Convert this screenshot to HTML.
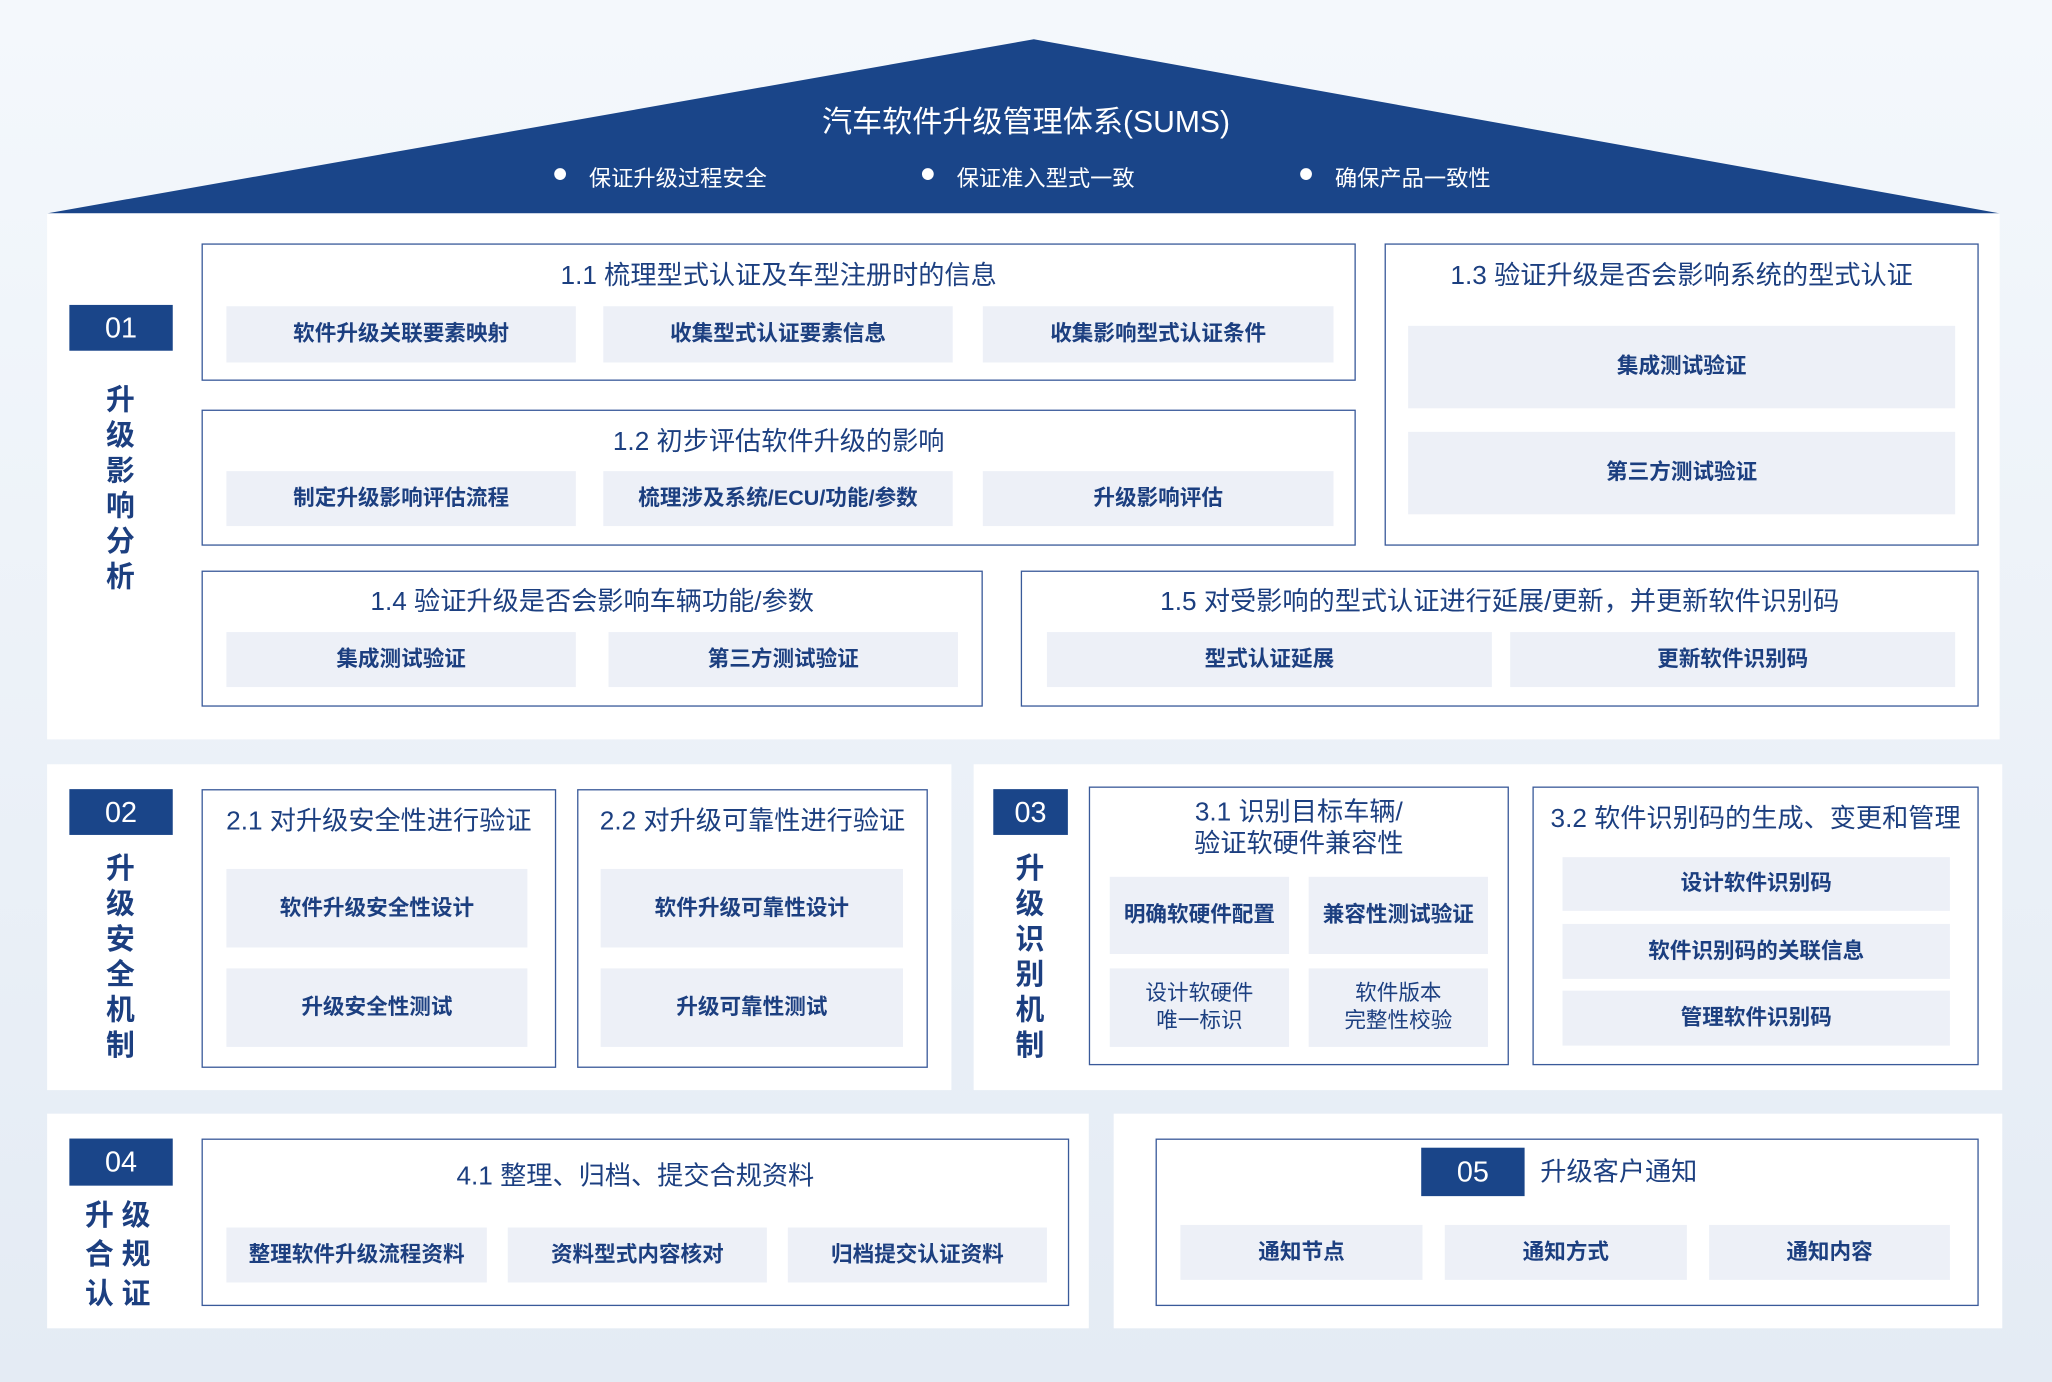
<!DOCTYPE html>
<html><head><meta charset="utf-8"><style>
html,body{margin:0;padding:0;width:2052px;height:1382px;overflow:hidden;background:linear-gradient(#f4f8fc,#e4ebf4);}
#s{position:absolute;left:0;top:0;width:1568px;height:1056px;transform:scale(1.30867);transform-origin:0 0;font-family:"Liberation Sans","Noto Sans CJK SC",sans-serif;color:#1c3f80;}
.a{position:absolute;box-sizing:border-box;}
.p{background:#fff;}
.b{border:1.5px solid #3a5a9a;background:#fff;}
.c{background:#edf0f7;display:flex;align-items:center;justify-content:center;text-align:center;font-size:16.5px;font-weight:bold;line-height:21px;}
.t{text-align:center;font-size:20px;line-height:24px;}
.g{background:#1a4589;color:#fff;font-size:22px;display:flex;align-items:center;justify-content:center;}
.v{font-size:22px;font-weight:bold;line-height:27px;text-align:center;width:30px;}
</style></head><body><div id="s">
<svg class="a" style="left:0;top:0" width="1568" height="170"><polygon points="36,163 790,30 1528,163" fill="#1a4589"/>
<circle cx="428" cy="133" r="4.5" fill="#fff"/><circle cx="709" cy="133" r="4.5" fill="#fff"/><circle cx="998" cy="133" r="4.5" fill="#fff"/></svg>
<div class="a" style="left:0;width:1568px;top:79px;text-align:center;color:#fff;font-size:23px;line-height:28px">汽车软件升级管理体系(SUMS)</div>
<div class="a" style="left:450px;top:122px;color:#fff;font-size:17px">保证升级过程安全</div>
<div class="a" style="left:731px;top:122px;color:#fff;font-size:17px">保证准入型式一致</div>
<div class="a" style="left:1020px;top:122px;color:#fff;font-size:17px">确保产品一致性</div>

<div class="a p" style="left:36px;top:163px;width:1492px;height:402px"></div>
<div class="a g" style="left:53px;top:233px;width:79px;height:35px">01</div>
<div class="a v" style="left:77px;top:292px">升<br>级<br>影<br>响<br>分<br>析</div>

<div class="a b" style="left:154px;top:186px;width:882px;height:105px"></div>
<div class="a t" style="left:154px;width:882px;top:199px">1.1 梳理型式认证及车型注册时的信息</div>
<div class="a c" style="left:173px;top:234px;width:267px;height:43px">软件升级关联要素映射</div>
<div class="a c" style="left:461px;top:234px;width:267px;height:43px">收集型式认证要素信息</div>
<div class="a c" style="left:751px;top:234px;width:268px;height:43px">收集影响型式认证条件</div>

<div class="a b" style="left:154px;top:313px;width:882px;height:104px"></div>
<div class="a t" style="left:154px;width:882px;top:326px">1.2 初步评估软件升级的影响</div>
<div class="a c" style="left:173px;top:360px;width:267px;height:42px">制定升级影响评估流程</div>
<div class="a c" style="left:461px;top:360px;width:267px;height:42px">梳理涉及系统/ECU/功能/参数</div>
<div class="a c" style="left:751px;top:360px;width:268px;height:42px">升级影响评估</div>

<div class="a b" style="left:1058px;top:186px;width:454px;height:231px"></div>
<div class="a t" style="left:1058px;width:454px;top:199px">1.3 验证升级是否会影响系统的型式认证</div>
<div class="a c" style="left:1076px;top:249px;width:418px;height:63px">集成测试验证</div>
<div class="a c" style="left:1076px;top:330px;width:418px;height:63px">第三方测试验证</div>

<div class="a b" style="left:154px;top:436px;width:597px;height:104px"></div>
<div class="a t" style="left:154px;width:597px;top:448px">1.4 验证升级是否会影响车辆功能/参数</div>
<div class="a c" style="left:173px;top:483px;width:267px;height:42px">集成测试验证</div>
<div class="a c" style="left:465px;top:483px;width:267px;height:42px">第三方测试验证</div>

<div class="a b" style="left:780px;top:436px;width:732px;height:104px"></div>
<div class="a t" style="left:780px;width:732px;top:448px">1.5 对受影响的型式认证进行延展/更新，并更新软件识别码</div>
<div class="a c" style="left:800px;top:483px;width:340px;height:42px">型式认证延展</div>
<div class="a c" style="left:1154px;top:483px;width:340px;height:42px">更新软件识别码</div>

<div class="a p" style="left:36px;top:584px;width:691px;height:249px"></div>
<div class="a g" style="left:53px;top:603px;width:79px;height:35px">02</div>
<div class="a v" style="left:77px;top:650px">升<br>级<br>安<br>全<br>机<br>制</div>
<div class="a b" style="left:154px;top:603px;width:271px;height:213px"></div>
<div class="a t" style="left:154px;width:271px;top:616px">2.1 对升级安全性进行验证</div>
<div class="a c" style="left:173px;top:664px;width:230px;height:60px">软件升级安全性设计</div>
<div class="a c" style="left:173px;top:740px;width:230px;height:60px">升级安全性测试</div>
<div class="a b" style="left:441px;top:603px;width:268px;height:213px"></div>
<div class="a t" style="left:441px;width:268px;top:616px">2.2 对升级可靠性进行验证</div>
<div class="a c" style="left:459px;top:664px;width:231px;height:60px">软件升级可靠性设计</div>
<div class="a c" style="left:459px;top:740px;width:231px;height:60px">升级可靠性测试</div>

<div class="a p" style="left:744px;top:584px;width:786px;height:249px"></div>
<div class="a g" style="left:759px;top:603px;width:57px;height:35px">03</div>
<div class="a v" style="left:772px;top:650px">升<br>级<br>识<br>别<br>机<br>制</div>
<div class="a b" style="left:832px;top:601px;width:321px;height:213px"></div>
<div class="a t" style="left:832px;width:321px;top:609px">3.1 识别目标车辆/<br>验证软硬件兼容性</div>
<div class="a c" style="left:848px;top:670px;width:137px;height:59px">明确软硬件配置</div>
<div class="a c" style="left:1000px;top:670px;width:137px;height:59px">兼容性测试验证</div>
<div class="a c" style="left:848px;top:740px;width:137px;height:60px;font-weight:normal">设计软硬件<br>唯一标识</div>
<div class="a c" style="left:1000px;top:740px;width:137px;height:60px;font-weight:normal">软件版本<br>完整性校验</div>
<div class="a b" style="left:1171px;top:601px;width:341px;height:213px"></div>
<div class="a t" style="left:1171px;width:341px;top:614px">3.2 软件识别码的生成、变更和管理</div>
<div class="a c" style="left:1194px;top:655px;width:296px;height:41px">设计软件识别码</div>
<div class="a c" style="left:1194px;top:706px;width:296px;height:42px">软件识别码的关联信息</div>
<div class="a c" style="left:1194px;top:757px;width:296px;height:42px">管理软件识别码</div>

<div class="a p" style="left:36px;top:851px;width:796px;height:164px"></div>
<div class="a g" style="left:53px;top:870px;width:79px;height:36px">04</div>
<div class="a" style="left:60px;top:914px;width:66px;font-size:22px;font-weight:bold;line-height:30px;text-align:center;letter-spacing:6px">升级<br>合规<br>认证</div>
<div class="a b" style="left:154px;top:870px;width:663px;height:128px"></div>
<div class="a t" style="left:154px;width:663px;top:887px">4.1 整理、归档、提交合规资料</div>
<div class="a c" style="left:173px;top:938px;width:199px;height:42px">整理软件升级流程资料</div>
<div class="a c" style="left:388px;top:938px;width:198px;height:42px">资料型式内容核对</div>
<div class="a c" style="left:602px;top:938px;width:198px;height:42px">归档提交认证资料</div>

<div class="a p" style="left:851px;top:851px;width:679px;height:164px"></div>
<div class="a b" style="left:883px;top:870px;width:629px;height:128px"></div>
<div class="a g" style="left:1086px;top:877px;width:79px;height:37px">05</div>
<div class="a" style="left:1177px;top:883px;font-size:20px;line-height:26px">升级客户通知</div>
<div class="a c" style="left:902px;top:936px;width:185px;height:42px">通知节点</div>
<div class="a c" style="left:1104px;top:936px;width:185px;height:42px">通知方式</div>
<div class="a c" style="left:1306px;top:936px;width:184px;height:42px">通知内容</div>
</div></body></html>
